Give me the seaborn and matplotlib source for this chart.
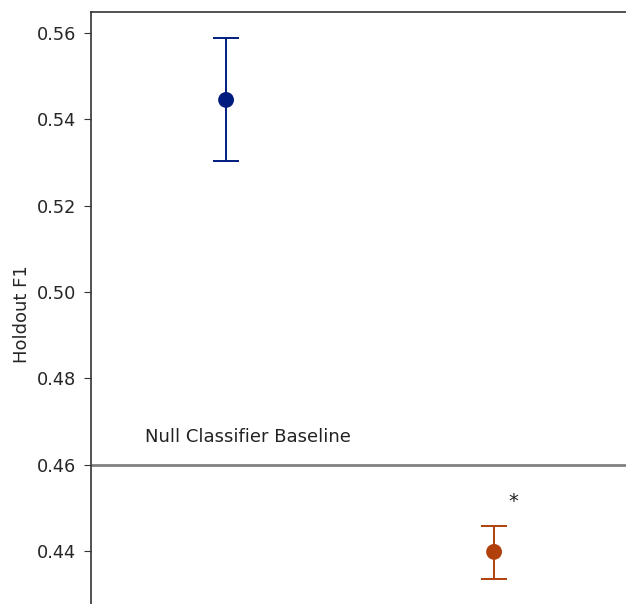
import numpy as np
import pandas as pd
from matplotlib import pyplot as plt
import seaborn as sns

sns.set_style("ticks")
plt.rcParams['font.family'] = ['DejaVu Sans']

# values
models = ["Model A", "Model B"]
f1_mean = [0.5445, 0.4398]
f1_low = [0.5303, 0.4335]
f1_high = [0.5588, 0.4458]
colors = ["#001c7f", "#b1400d"]
null_baseline = 0.46
significant = [False, True]

data = pd.DataFrame({"model": models, "f1": f1_mean})

fig = plt.figure(figsize=(6.26, 6.04), dpi=100)
# axes run past the right and bottom edge (the figure is a crop)
ax = fig.add_axes([91 / 626, -0.02, 1.0, 1 - 12 / 604 + 0.02])

for i, (m, lo, hi, c) in enumerate(zip(f1_mean, f1_low, f1_high, colors)):
    ax.errorbar(i, m, yerr=[[m - lo], [hi - m]], fmt='none', ecolor=c,
                elinewidth=1.4, capsize=9.7, capthick=1.4, zorder=2)

sns.scatterplot(data=data, x="model", y="f1", hue="model", palette=colors,
                s=130, linewidth=0, legend=False, ax=ax, zorder=3)

ax.axhline(null_baseline, color="grey", linewidth=2, zorder=1)
ax.text(-0.302, null_baseline + 0.0064, "Null Classifier Baseline",
        fontsize=13, ha="left", va="center", color="#222222")

for i, sig in enumerate(significant):
    if sig:
        ax.text(i + 0.07, f1_high[i] + 0.0056, "*", fontsize=14,
                ha="center", va="center", color="#222222")

# y range chosen so 0.56 and 0.44 land where they sit in the crop
y_per_px = 0.12 / 518
ax.set_ylim(0.44 - (604 - 551 + 0.02 * 604) * y_per_px, 0.56 + (33 - 12) * y_per_px)
ax.set_xlim(-0.504, -0.504 + 626 / 268)
ax.set_yticks(np.arange(0.44, 0.561, 0.02))
ax.set_yticklabels([f"{v:.2f}" for v in np.arange(0.44, 0.561, 0.02)], fontsize=12.8)
ax.tick_params(axis="y", length=5, pad=5.5, color="#333333")
ax.set_xticks([])
ax.set_xlabel("")
ax.set_ylabel("Holdout F1", fontsize=13, labelpad=4)
for s in ax.spines.values():
    s.set_color("#333333")
    s.set_linewidth(1.2)

plt.savefig("out.png", dpi=100)
